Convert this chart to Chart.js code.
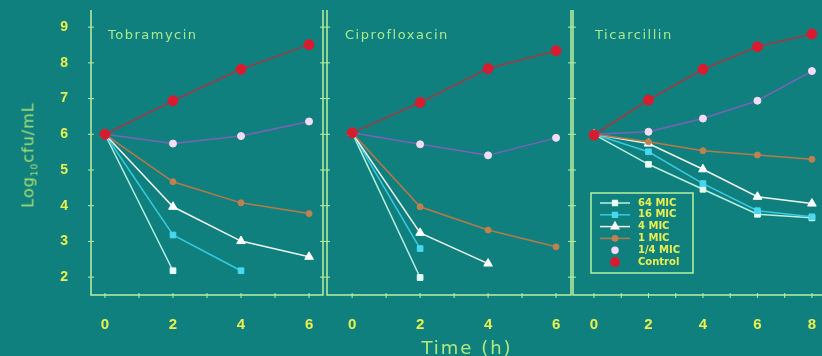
<!DOCTYPE html>
<html>
<head>
<meta charset="utf-8">
<script src="https://cdn.jsdelivr.net/npm/chart.js@4.4.0/dist/chart.umd.min.js"></script>
<style>
  body { margin: 0; background: #10807e; width: 822px; height: 356px; overflow: hidden; position: relative; font-family: "DejaVu Sans", sans-serif; }
  canvas { position: absolute; top: 0; }
  .ptitle { position: absolute; top: 27px; color: #a8e890; font-size: 13px; letter-spacing: 1.5px; white-space: nowrap; }
  #ytitle { position: absolute; left: 29px; top: 155px; color: #a8e070; font-size: 16px; letter-spacing: 1px; white-space: nowrap;
            transform: translate(-50%, -50%) rotate(-90deg); }
  #ytitle sub { font-size: 9px; }
  #xtitle { position: absolute; left: 467px; top: 347px; color: #b0e880; font-size: 18px; letter-spacing: 2px; white-space: nowrap;
            transform: translate(-50%, -50%); }
</style>
</head>
<body>
<canvas id="tobra" width="325" height="356" style="left:0px"></canvas>
<canvas id="cipro" width="247" height="356" style="left:325px"></canvas>
<canvas id="ticar" width="250" height="356" style="left:572px"></canvas>
<div class="ptitle" style="left:108px">Tobramycin</div>
<div class="ptitle" style="left:345px">Ciprofloxacin</div>
<div class="ptitle" style="left:595px">Ticarcillin</div>
<div id="ytitle">Log<sub>10</sub>cfu/mL</div>
<div id="xtitle">Time (h)</div>
<script>
// series in legend order
const series = ['64 MIC', '16 MIC', '4 MIC', '1 MIC', '1/4 MIC', 'Control'];
const yTicks = [2, 3, 4, 5, 6, 7, 8, 9];

// Tobramycin (h: 0,2,4,6)
const tobraHours = [0, 2, 4, 6];
const tobra64 = [6.0, 2.18];
const tobra16 = [6.0, 3.18, 2.18];
const tobra4 = [6.0, 3.97, 3.01, 2.57];
const tobra1 = [6.0, 4.67, 4.08, 3.78];
const tobraQuarter = [6.0, 5.74, 5.95, 6.36];
const tobraControl = [6.0, 6.94, 7.82, 8.51];

// Ciprofloxacin (h: 0,2,4,6)
const ciproHours = [0, 2, 4, 6];
const cipro64 = [6.04, 1.99];
const cipro16 = [6.04, 2.80];
const cipro4 = [6.04, 3.24, 2.38];
const cipro1 = [6.04, 3.97, 3.32, 2.85];
const ciproQuarter = [6.04, 5.72, 5.41, 5.90];
const ciproControl = [6.04, 6.89, 7.84, 8.34];

// Ticarcillin (h: 0,2,4,6,8)
const ticarHours = [0, 2, 4, 6, 8];
const ticar64 = [6.0, 5.16, 4.46, 3.76, 3.66];
const ticar16 = [6.0, 5.51, 4.62, 3.86, 3.69];
const ticar4 = [6.0, 5.74, 5.02, 4.25, 4.06];
const ticar1 = [6.0, 5.79, 5.54, 5.42, 5.30];
const ticarQuarter = [6.0, 6.07, 6.44, 6.94, 7.77];
const ticarControl = [5.98, 6.96, 7.82, 8.45, 8.81];

const frameColor = '#b8f0a0';
const tickColor = '#e8f050';

const styles = {
  '64 MIC':  { line: '#b8f0e0', fill: '#e8fff4', shape: 'rect', size: 4, legendLine: true },
  '16 MIC':  { line: '#38c8e0', fill: '#48d8f0', shape: 'rect', size: 4, legendLine: true },
  '4 MIC':   { line: '#eef4f0', fill: '#ffffff', shape: 'triangle', size: 5, legendLine: true },
  '1 MIC':   { line: '#b87848', fill: '#c08050', shape: 'circle', size: 3, legendLine: true },
  '1/4 MIC': { line: '#7a62b8', fill: '#f4dcf8', shape: 'circle', size: 3.5, legendLine: false },
  'Control': { line: '#a03a44', fill: '#d81c30', shape: 'circle', size: 5, legendLine: false }
};

const framePlugin = {
  id: 'frame',
  beforeDatasetsDraw(chart, args, o) {
    const { ctx, chartArea: a, scales: { x, y } } = chart;
    ctx.save();
    ctx.strokeStyle = frameColor;
    ctx.lineWidth = 1.5;
    ctx.beginPath();
    ctx.moveTo(a.left, a.top);
    ctx.lineTo(a.left, a.bottom);
    ctx.lineTo(a.right, a.bottom);
    if (o.right) ctx.lineTo(a.right, a.top);
    ctx.stroke();
    ctx.lineWidth = 1;
    ctx.beginPath();
    yTicks.forEach(v => {
      const py = y.getPixelForValue(v);
      ctx.moveTo(a.left - 3, py); ctx.lineTo(a.left + 3, py);
      if (o.right) { ctx.moveTo(a.right - 3, py); ctx.lineTo(a.right + 3, py); }
    });
    x.ticks.forEach(t => {
      const px = x.getPixelForValue(t.value);
      ctx.moveTo(px, a.bottom - 2); ctx.lineTo(px, a.bottom + 3);
    });
    ctx.stroke();
    ctx.restore();
  }
};

const legendPlugin = {
  id: 'micLegend',
  afterDraw(chart, args, o) {
    if (!o.show) return;
    const ctx = chart.ctx;
    const bx = 19, by = 193, bw = 102, bh = 80;
    ctx.save();
    ctx.strokeStyle = frameColor;
    ctx.lineWidth = 1.5;
    ctx.strokeRect(bx, by, bw, bh);
    ctx.font = 'bold 10px "DejaVu Sans"';
    ctx.textBaseline = 'middle';
    series.forEach((name, i) => {
      const st = styles[name];
      const ry = by + 10 + i * 11.8;
      if (st.legendLine) {
        ctx.strokeStyle = st.line;
        ctx.lineWidth = 1.5;
        ctx.beginPath();
        ctx.moveTo(bx + 9, ry); ctx.lineTo(bx + 39, ry);
        ctx.stroke();
      }
      ctx.fillStyle = st.fill;
      ctx.strokeStyle = st.fill;
      Chart.helpers.drawPoint(ctx, { pointStyle: st.shape, radius: st.size * 0.85, borderWidth: 1, rotation: 0 }, bx + 24, ry);
      ctx.fillStyle = tickColor;
      ctx.fillText(name, bx + 47, ry);
    });
    ctx.restore();
  }
};

function makeChart(id, hours, values, xMin, xMax, side) {
  const datasets = series.map((name, i) => {
    const st = styles[name];
    return {
      label: name,
      data: values[i].map((v, k) => ({ x: hours[k], y: v })),
      borderColor: st.line,
      borderWidth: 1.5,
      pointStyle: st.shape,
      pointRadius: st.size,
      pointBackgroundColor: st.fill,
      pointBorderColor: st.fill,
      pointBorderWidth: 1,
      tension: 0
    };
  }).reverse();

  const lastHour = hours[hours.length - 1];
  return new Chart(document.getElementById(id), {
    type: 'line',
    data: { datasets },
    plugins: [framePlugin, legendPlugin],
    options: {
      responsive: false,
      animation: false,
      events: [],
      layout: { autoPadding: false, padding: { top: 10, bottom: 0, left: side.padLeft, right: side.padRight } },
      plugins: {
        legend: { display: false },
        tooltip: { enabled: false },
        frame: { right: side.rightLine },
        micLegend: { show: side.legend }
      },
      scales: {
        x: {
          type: 'linear', min: xMin, max: xMax,
          grid: { display: false }, border: { display: false },
          afterBuildTicks: s => {
            const t = [];
            for (let v = 0; v <= lastHour; v++) t.push({ value: v });
            s.ticks = t;
          },
          afterFit: s => { s.height = 61; s.paddingLeft = 0; s.paddingRight = 0; },
          ticks: {
            autoSkip: false, maxRotation: 0, padding: 13,
            color: tickColor, font: { family: 'Liberation Sans', weight: 'bold', size: 15 },
            callback: v => (v % 2 === 0 ? v : '')
          }
        },
        y: {
          display: side.showY,
          min: 1.5, max: 9.48,
          grid: { display: false }, border: { display: false },
          afterBuildTicks: s => { s.ticks = yTicks.map(v => ({ value: v })); },
          afterFit: s => {
            s.width = side.showY ? 91 : 0;
            s.paddingTop = 0; s.paddingBottom = 0;
          },
          ticks: {
            padding: 15,
            color: tickColor, font: { family: 'Liberation Sans', weight: 'bold', size: 14 }
          }
        }
      }
    }
  });
}

makeChart('tobra', tobraHours,
  [tobra64, tobra16, tobra4, tobra1, tobraQuarter, tobraControl],
  -0.41, 6.41, { showY: true, padLeft: 0, padRight: 2, rightLine: true, legend: false });
makeChart('cipro', ciproHours,
  [cipro64, cipro16, cipro4, cipro1, ciproQuarter, ciproControl],
  -0.74, 6.44, { showY: false, padLeft: 2, padRight: 1, rightLine: true, legend: false });
makeChart('ticar', ticarHours,
  [ticar64, ticar16, ticar4, ticar1, ticarQuarter, ticarControl],
  -0.77, 8.37, { showY: false, padLeft: 1, padRight: 0, rightLine: false, legend: true });
</script>
</body>
</html>
